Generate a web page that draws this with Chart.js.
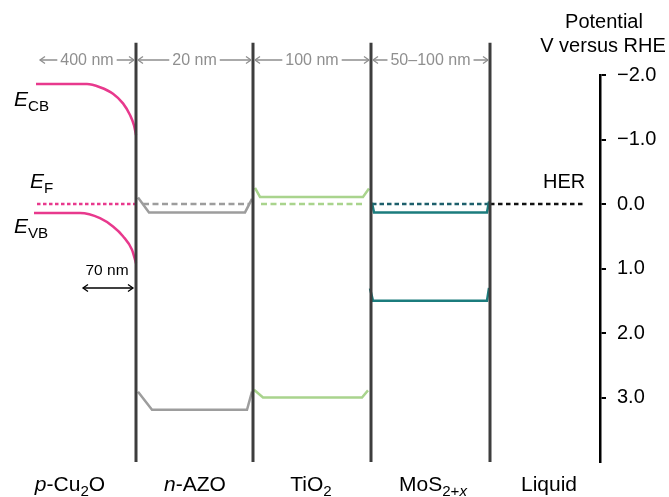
<!DOCTYPE html>
<html>
<head>
<meta charset="utf-8">
<script src="https://cdn.jsdelivr.net/npm/chart.js@4.4.1/dist/chart.umd.min.js"></script>
<style>
  html, body { margin: 0; padding: 0; background: #fff; }
  canvas { display: block; }
</style>
</head>
<body>
<canvas id="bands" width="669" height="497"></canvas>
<script>
// schematic x (layer coordinate), potential in V vs RHE
const interfaceX = [136, 253, 371, 490];
const interfaceSpan = [-2.5, 4.0];
const cu2oStartX = 37;
const potentialTicks = [-2, -1, 0, 1, 2, 3];

const layerNames = ['p-Cu2O', 'n-AZO', 'TiO2', 'MoS2+x', 'Liquid'];
const thicknessLabels = ['400 nm', '20 nm', '100 nm', '50\u2013100 nm'];

// p-Cu2O band bending
const cu2oCbX = [36, 87, 100, 113, 123, 130, 134, 136];
const cu2oCbY = [-1.86, -1.86, -1.81, -1.71, -1.56, -1.38, -1.22, -1.07];
const cu2oVbX = [34, 80, 100, 113, 123, 132, 136];
const cu2oVbY = [0.14, 0.14, 0.22, 0.35, 0.50, 0.71, 0.92];
const cu2oFermi = 0.0;

// n-AZO
const azoCbX = [138, 149, 245, 252];
const azoCbY = [-0.10, 0.13, 0.13, -0.08];
const azoVbX = [138, 152, 247, 252];
const azoVbY = [2.91, 3.19, 3.19, 2.91];

// TiO2
const tio2CbX = [255, 260, 363, 369];
const tio2CbY = [-0.25, -0.11, -0.11, -0.24];
const tio2VbX = [254, 263, 362, 368];
const tio2VbY = [2.88, 3.0, 3.0, 2.89];

// MoS2+x
const mosCbX = [372, 374, 487, 489];
const mosCbY = [-0.02, 0.13, 0.13, -0.04];
const mosVbX = [370, 373, 487, 489];
const mosVbY = [1.31, 1.50, 1.50, 1.30];

const herLevel = 0.0;
const herEndX = 586;

const FONT = '"Liberation Sans", Arial, Helvetica, sans-serif';
const PINK = '#e8398d';
const GRAY = '#9d9d9d';
const GREEN = '#a9d48d';
const TEAL = '#1b7c7d';

const pts = (xs, ys) => xs.map((x, i) => ({ x: x, y: ys[i] }));

const line = (data, color, extra) => Object.assign({
  data: data,
  showLine: true,
  borderColor: color,
  borderWidth: 2.5,
  pointRadius: 0,
  fill: false,
  clip: false
}, extra || {});

const datasets = [];

interfaceX.forEach(x => {
  datasets.push(line([{ x: x, y: interfaceSpan[0] }, { x: x, y: interfaceSpan[1] }], '#3d3d3d', { borderWidth: 3 }));
});

datasets.push(line(pts(cu2oCbX, cu2oCbY), PINK, { cubicInterpolationMode: 'monotone' }));
datasets.push(line(pts(cu2oVbX, cu2oVbY), PINK, { cubicInterpolationMode: 'monotone' }));
datasets.push(line([{ x: cu2oStartX, y: cu2oFermi }, { x: interfaceX[0], y: cu2oFermi }], PINK, { borderDash: [3.5, 2.5] }));

datasets.push(line(pts(azoCbX, azoCbY), GRAY));
datasets.push(line(pts(azoVbX, azoVbY), GRAY));
datasets.push(line([{ x: 143, y: 0 }, { x: 250, y: 0 }], GRAY, { borderDash: [6, 3.5] }));

datasets.push(line(pts(tio2CbX, tio2CbY), GREEN));
datasets.push(line(pts(tio2VbX, tio2VbY), GREEN));
datasets.push(line([{ x: 261, y: 0 }, { x: 365, y: 0 }], GREEN, { borderDash: [6, 3.5] }));

datasets.push(line(pts(mosCbX, mosCbY), TEAL));
datasets.push(line(pts(mosVbX, mosVbY), TEAL));
datasets.push(line([{ x: 372, y: 0 }, { x: 488, y: 0 }], '#1d5f6b', { borderDash: [4.5, 3] }));

datasets.push(line([{ x: interfaceX[3], y: herLevel }, { x: herEndX, y: herLevel }], '#111', { borderDash: [4.5, 3.5] }));

// text pieces: [text, style] where style may contain i (italic) and s (subscript)
function richWidth(ctx, parts, size) {
  let w = 0;
  parts.forEach(([t, st]) => {
    const sz = st.includes('s') ? size * 0.72 : size;
    ctx.font = (st.includes('i') ? 'italic ' : '') + sz + 'px ' + FONT;
    w += ctx.measureText(t).width;
  });
  return w;
}

function drawRich(ctx, parts, x, y, size, align) {
  let cx = align === 'center' ? x - richWidth(ctx, parts, size) / 2 : x;
  ctx.textAlign = 'left';
  ctx.textBaseline = 'alphabetic';
  parts.forEach(([t, st]) => {
    const sub = st.includes('s');
    const sz = sub ? size * 0.72 : size;
    ctx.font = (st.includes('i') ? 'italic ' : '') + sz + 'px ' + FONT;
    ctx.fillText(t, cx, sub ? y + size * 0.26 : y);
    cx += ctx.measureText(t).width;
  });
}

function chevron(ctx, x, y, dir) {
  ctx.beginPath();
  ctx.moveTo(x - dir * 5, y - 3.5);
  ctx.lineTo(x, y);
  ctx.lineTo(x - dir * 5, y + 3.5);
  ctx.stroke();
}

const labelPlugin = {
  id: 'labels',
  afterDraw(chart) {
    const ctx = chart.ctx;
    const xs = chart.scales.x;
    const ys = chart.scales.y;
    ctx.save();

    // thickness arrows along the top
    const edges = [cu2oStartX + 1].concat(interfaceX);
    ctx.strokeStyle = '#8f8f8f';
    ctx.fillStyle = '#8f8f8f';
    ctx.lineWidth = 1.3;
    const dimY = 60;
    thicknessLabels.forEach((lab, i) => {
      const a = xs.getPixelForValue(edges[i]) + 2;
      const b = xs.getPixelForValue(edges[i + 1]) - 2;
      const mid = (a + b) / 2;
      ctx.font = '16px ' + FONT;
      const w = ctx.measureText(lab).width;
      ctx.textAlign = 'center';
      ctx.textBaseline = 'middle';
      ctx.fillText(lab, mid, dimY + 1);
      ctx.beginPath();
      ctx.moveTo(a, dimY); ctx.lineTo(mid - w / 2 - 3, dimY);
      ctx.moveTo(mid + w / 2 + 3, dimY); ctx.lineTo(b, dimY);
      ctx.stroke();
      chevron(ctx, a, dimY, -1);
      chevron(ctx, b, dimY, 1);
    });

    ctx.fillStyle = '#000';
    ctx.strokeStyle = '#000';

    // band labels
    drawRich(ctx, [['E', 'i'], ['CB', 's']], 14, 106, 21, 'left');
    drawRich(ctx, [['E', 'i'], ['F', 's']], 30, 188, 21, 'left');
    drawRich(ctx, [['E', 'i'], ['VB', 's']], 14, 233, 21, 'left');

    // depletion width
    ctx.font = '15.5px ' + FONT;
    ctx.textAlign = 'center';
    ctx.textBaseline = 'alphabetic';
    ctx.fillText('70 nm', 107, 275);
    ctx.lineWidth = 1.3;
    ctx.beginPath();
    ctx.moveTo(83, 288); ctx.lineTo(133, 288);
    ctx.stroke();
    chevron(ctx, 83, 288, -1);
    chevron(ctx, 133, 288, 1);

    // HER
    ctx.font = '20px ' + FONT;
    ctx.textAlign = 'left';
    ctx.fillText('HER', 543, ys.getPixelForValue(herLevel) - 16);

    // axis title
    ctx.textAlign = 'center';
    ctx.fillText('Potential', 604, 28);
    ctx.fillText('V versus RHE', 603, 52);

    // layer names
    const bottomY = 491;
    const names = [
      [['p', 'i'], ['-Cu', ''], ['2', 's'], ['O', '']],
      [['n', 'i'], ['-AZO', '']],
      [['TiO', ''], ['2', 's']],
      [['MoS', ''], ['2+', 's'], ['x', 'is']],
      [['Liquid', '']]
    ];
    const nameX = [70, 195, 311, 433, 549];
    names.forEach((parts, i) => drawRich(ctx, parts, nameX[i], bottomY, 21, 'center'));

    ctx.restore();
  }
};

new Chart(document.getElementById('bands'), {
  type: 'scatter',
  data: { datasets: datasets },
  options: {
    responsive: false,
    animation: false,
    layout: { padding: { top: 75, bottom: 35, left: 0, right: 0 } },
    plugins: { legend: { display: false }, tooltip: { enabled: false } },
    scales: {
      x: { type: 'linear', display: false, min: 0, max: 600 },
      y: {
        position: 'right',
        reverse: true,
        min: -2,
        max: 4,
        afterFit(scale) { scale.width = 69; },
        afterBuildTicks(scale) { scale.ticks = potentialTicks.map(v => ({ value: v })); },
        grid: { drawOnChartArea: false, drawTicks: true, tickLength: 6, color: '#000', lineWidth: 2 },
        border: { display: true, color: '#000', width: 2.5 },
        ticks: {
          padding: 11,
          color: '#000',
          font: { family: FONT, size: 20 },
          callback: v => v.toFixed(1).replace('-', '\u2212')
        }
      }
    }
  },
  plugins: [labelPlugin]
});
</script>
</body>
</html>
